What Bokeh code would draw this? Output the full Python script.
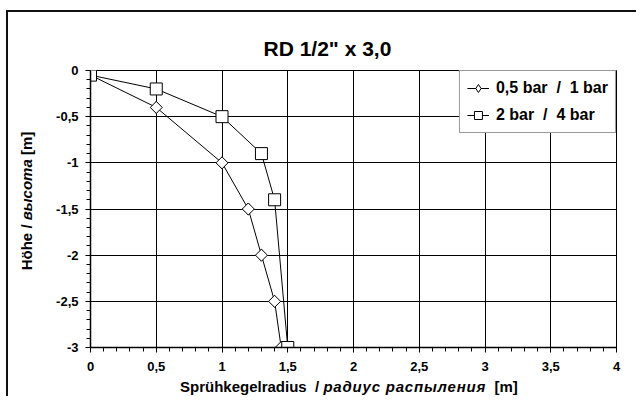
import numpy as np
from bokeh.plotting import figure
from bokeh.layouts import column, row
from bokeh.models import Range1d, FixedTicker, Legend, LegendItem, Div
from bokeh.embed import file_html
from bokeh.resources import INLINE

# ---- data ----
title_text = 'RD 1/2" x 3,0'
s1_name = "0,5 bar  /  1 bar"
s1_x = [0.0, 0.5, 1.0, 1.2, 1.3, 1.4, 1.45]
s1_y = [-0.05, -0.4, -1.0, -1.5, -2.0, -2.5, -3.0]
s2_name = "2 bar  /  4 bar"
s2_x = [0.0, 0.5, 1.0, 1.3, 1.4, 1.5]
s2_y = [-0.05, -0.2, -0.5, -0.9, -1.4, -3.0]
x_ticks = [0, 0.5, 1, 1.5, 2, 2.5, 3, 3.5, 4]
x_tick_labels = ["0", "0,5", "1", "1,5", "2", "2,5", "3", "3,5", "4"]
y_ticks = [0, -0.5, -1, -1.5, -2, -2.5, -3]
y_tick_labels = ["0", "-0,5", "-1", "-1,5", "-2", "-2,5", "-3"]
x_title_main, x_title_ru, x_title_unit = "Sprühkegelradius", "радиус распыления", "[m]"
y_title_main, y_title_ru, y_title_unit = "Höhe", "высота", "[m]"

FONT = "Liberation Sans"
FRAME_COLOR = "#111111"
TXT = ("font-family:'Liberation Sans',Arial,sans-serif;font-weight:bold;"
       "font-size:15px;color:#000;white-space:nowrap;line-height:17px;")

W = 636
TOP_H = 12
MID_H = 365
BOT_H = 19
LEFT_W = 50

# ---- top strip: outer chart border ----
top = Div(width=W, height=TOP_H, margin=0, text=(
    f'<div style="position:relative;width:{W}px;height:{TOP_H}px;">'
    f'<div style="position:absolute;left:6px;top:10px;width:{W - 6}px;height:2px;'
    f'background:{FRAME_COLOR};"></div></div>'))

# ---- left strip: border + y axis title ----
left = Div(width=LEFT_W, height=MID_H, margin=0, text=(
    f'<div style="position:relative;width:{LEFT_W}px;height:{MID_H}px;">'
    f'<div style="position:absolute;left:6px;top:0px;width:2px;height:{MID_H}px;'
    f'background:{FRAME_COLOR};"></div>'
    f'<div style="position:absolute;left:26px;top:189px;'
    f'transform:translate(-50%,-50%) rotate(-90deg);{TXT}">'
    f'{y_title_main} / <i>{y_title_ru}</i> {y_title_unit}</div></div>'))

# ---- bottom strip: border + x axis title ----
bot = Div(width=W, height=BOT_H, margin=0, text=(
    f'<div style="position:relative;width:{W}px;height:{BOT_H}px;">'
    f'<div style="position:absolute;left:6px;top:0px;width:2px;height:{BOT_H}px;'
    f'background:{FRAME_COLOR};"></div>'
    f'<div style="position:absolute;left:180px;top:1px;{TXT}">'
    f'{x_title_main}&nbsp;&nbsp;/ <i style="letter-spacing:0.8px;">{x_title_ru}</i>'
    f'&nbsp; {x_title_unit}</div></div>'))

# ---- main chart ----
p = figure(frame_width=526, frame_height=277, min_border_left=40, min_border_right=20,
           min_border_top=58, min_border_bottom=30,
           x_range=Range1d(0, 4), y_range=Range1d(-3, 0),
           output_backend="svg", toolbar_location=None, margin=0,
           background_fill_color="white", border_fill_color="white")

p.title.text = title_text
p.title.align = "left"
p.title.offset = 173
p.title.text_font = FONT
p.title.text_font_style = "bold"
p.title.text_font_size = "21px"
p.title.text_color = "black"
p.title.standoff = 21

p.xaxis.ticker = FixedTicker(ticks=x_ticks, minor_ticks=list(np.round(np.arange(0, 4.0001, 0.1), 2)))
p.yaxis.ticker = FixedTicker(ticks=y_ticks, minor_ticks=list(np.round(np.arange(-3, 0.0001, 0.1), 2)))
p.xaxis.major_label_overrides = {t: l for t, l in zip(x_ticks, x_tick_labels)}
p.yaxis.major_label_overrides = {t: l for t, l in zip(y_ticks, y_tick_labels)}

for ax in (p.xaxis[0], p.yaxis[0]):
    ax.axis_line_color = "black"
    ax.axis_line_width = 1.5
    ax.major_tick_line_color = "black"
    ax.minor_tick_line_color = "black"
    ax.major_tick_in = 0
    ax.major_tick_out = 5
    ax.minor_tick_in = 0
    ax.minor_tick_out = 4
    ax.major_label_text_font = FONT
    ax.major_label_text_font_style = "bold"
    ax.major_label_text_font_size = "13px"
    ax.major_label_text_color = "black"
p.xaxis.major_label_standoff = 9
p.yaxis.major_label_standoff = 7

p.grid.grid_line_color = "black"
p.grid.grid_line_width = 1
p.outline_line_color = "black"
p.outline_line_width = 1

r1 = p.line(s1_x, s1_y, line_color="black", line_width=1)
m1 = p.scatter(s1_x, s1_y, marker="diamond", size=12, fill_color="white",
               line_color="black", line_width=1)
p.scatter(s1_x, s1_y, marker="square", angle=np.pi / 4, size=8.5, fill_color="white",
          line_color="black", line_width=1)
r2 = p.line(s2_x, s2_y, line_color="black", line_width=1)
m2 = p.scatter(s2_x, s2_y, marker="square", size=12, fill_color="white",
               line_color="black", line_width=1)

legend = Legend(items=[LegendItem(label=s1_name, renderers=[r1, m1]),
                       LegendItem(label=s2_name, renderers=[r2, m2])],
                location="top_right", orientation="vertical",
                border_line_color="#333333", border_line_width=1,
                background_fill_color="white", background_fill_alpha=1,
                padding=7, spacing=7, margin=0,
                glyph_width=22, glyph_height=20, label_height=20, label_standoff=7,
                label_text_font=FONT, label_text_font_style="bold",
                label_text_font_size="16px", label_text_color="black")
p.add_layout(legend, "center")

layout = column(top, row(left, p, spacing=0, margin=0), bot, spacing=0, margin=0)

open("out.html", "w").write(file_html(layout, INLINE))
